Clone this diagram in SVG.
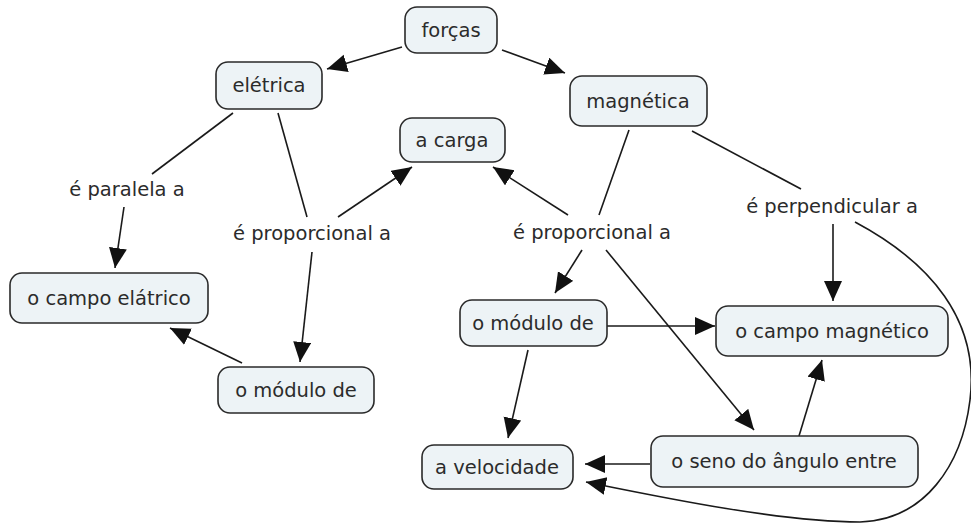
<svg xmlns="http://www.w3.org/2000/svg" width="971" height="524" viewBox="0 0 971 524">
<defs>
<marker id="ah" markerUnits="userSpaceOnUse" markerWidth="22" markerHeight="20" refX="20" refY="9" orient="auto">
<path d="M0,0 L20,9 L0,18 z" fill="#111"/>
</marker>
<style>
.n rect{fill:#edf3f6;stroke:#2a2a2a;stroke-width:1.6}
text{font-family:"DejaVu Sans","Liberation Sans",sans-serif;font-size:19.5px;fill:#2b2b2b;text-anchor:middle}
.c line,.c path{stroke:#1a1a1a;stroke-width:1.6;fill:none}
.a{marker-end:url(#ah)}
</style>
</defs>
<rect width="971" height="524" fill="#fff"/>
<g class="c" id="connectors">
<line class="a" x1="402" y1="47" x2="327" y2="69"/>
<line class="a" x1="502" y1="50" x2="565" y2="73"/>
<line x1="233" y1="113" x2="152" y2="174"/>
<line class="a" x1="124" y1="207" x2="115" y2="268"/>
<line x1="278" y1="113" x2="307" y2="217"/>
<line class="a" x1="338" y1="217" x2="412" y2="167"/>
<line class="a" x1="312" y1="252" x2="300" y2="362"/>
<line class="a" x1="242" y1="363" x2="170" y2="328"/>
<line x1="629" y1="130" x2="599" y2="215"/>
<line class="a" x1="568" y1="215" x2="493" y2="167"/>
<line class="a" x1="582" y1="250" x2="555" y2="293"/>
<line class="a" x1="606" y1="250" x2="754" y2="430"/>
<line x1="692" y1="131" x2="801" y2="189"/>
<line class="a" x1="833" y1="224" x2="833" y2="301"/>
<path class="a" d="M855,222 C930,262 980,320 970,400 C962,465 925,520 860,522 C780,522 660,497 586,482"/>
<line class="a" x1="607" y1="326" x2="715" y2="326"/>
<line class="a" x1="528" y1="350" x2="508" y2="438"/>
<line class="a" x1="799" y1="436" x2="822" y2="360"/>
<line class="a" x1="650" y1="464" x2="585" y2="464"/>
</g>
<g class="n" id="forcas"><rect x="405" y="7" width="92" height="46" rx="12"/><text x="451" y="37">forças</text></g>
<g class="n" id="eletrica"><rect x="216" y="62" width="106" height="47" rx="12"/><text x="269" y="92">elétrica</text></g>
<g class="n" id="magnetica"><rect x="570" y="76" width="137" height="50" rx="12"/><text x="638" y="108">magnética</text></g>
<g class="n" id="acarga"><rect x="400" y="118" width="105" height="44" rx="12"/><text x="452" y="147">a carga</text></g>
<g class="n" id="campoeletrico"><rect x="10" y="273" width="198" height="50" rx="12"/><text x="109" y="305">o campo elátrico</text></g>
<g class="n" id="modulo1"><rect x="218" y="367" width="156" height="46" rx="12"/><text x="296" y="397">o módulo de</text></g>
<g class="n" id="modulo2"><rect x="460" y="300" width="147" height="46" rx="12"/><text x="533" y="330">o módulo de</text></g>
<g class="n" id="campomagnetico"><rect x="716" y="306" width="232" height="50" rx="12"/><text x="832" y="338">o campo magnético</text></g>
<g class="n" id="velocidade"><rect x="422" y="445" width="151" height="44" rx="12"/><text x="497" y="474">a velocidade</text></g>
<g class="n" id="seno"><rect x="651" y="436" width="267" height="51" rx="12"/><text x="784" y="468">o seno do ângulo entre</text></g>
<g id="labels">
<text x="127" y="196">é paralela a</text>
<text x="312" y="240">é proporcional a</text>
<text x="592" y="239">é proporcional a</text>
<text x="832" y="213">é perpendicular a</text>
</g>
</svg>
